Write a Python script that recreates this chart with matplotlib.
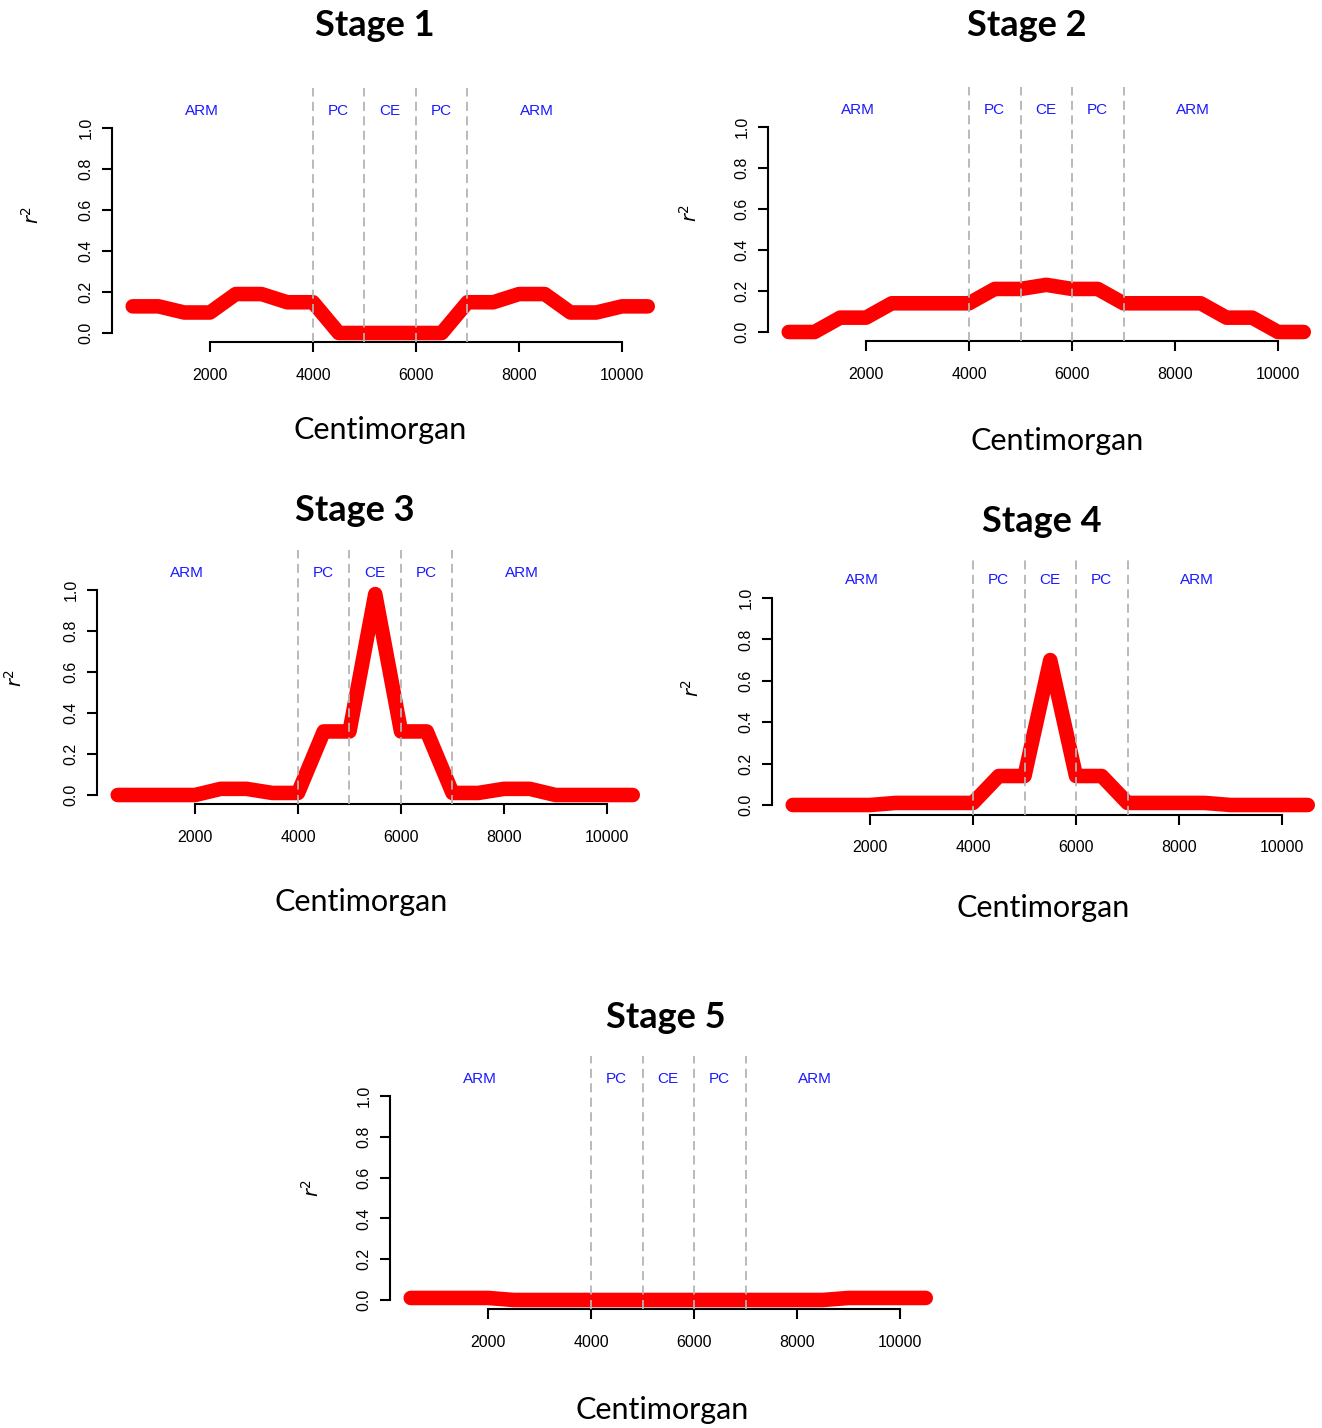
import matplotlib.pyplot as plt

W, H = 1322, 1428

# genetic position (cM) of each sampled point
cm_pos = [500, 1000, 1500, 2000, 2500, 3000, 3500, 4000, 4500, 5000, 5500,
          6000, 6500, 7000, 7500, 8000, 8500, 9000, 9500, 10000, 10500]

# r^2 at each position, one list per stage
stage1 = [0.13, 0.13, 0.10, 0.10, 0.19, 0.19, 0.15, 0.15, 0.0, 0.0, 0.0,
          0.0, 0.0, 0.15, 0.15, 0.19, 0.19, 0.10, 0.10, 0.13, 0.13]
stage2 = [0.0, 0.0, 0.07, 0.07, 0.14, 0.14, 0.14, 0.14, 0.21, 0.21, 0.23,
          0.21, 0.21, 0.14, 0.14, 0.14, 0.14, 0.07, 0.07, 0.0, 0.0]
stage3 = [0.0, 0.0, 0.0, 0.0, 0.03, 0.03, 0.01, 0.01, 0.31, 0.31, 0.98,
          0.31, 0.31, 0.01, 0.01, 0.03, 0.03, 0.0, 0.0, 0.0, 0.0]
stage4 = [0.0, 0.0, 0.0, 0.0, 0.01, 0.01, 0.01, 0.01, 0.14, 0.14, 0.70,
          0.14, 0.14, 0.01, 0.01, 0.01, 0.01, 0.0, 0.0, 0.0, 0.0]
stage5 = [0.01, 0.01, 0.01, 0.01, 0.0, 0.0, 0.0, 0.0, 0.0, 0.0, 0.0,
          0.0, 0.0, 0.0, 0.0, 0.0, 0.0, 0.01, 0.01, 0.01, 0.01]

stage_titles = ['Stage 1', 'Stage 2', 'Stage 3', 'Stage 4', 'Stage 5']

# chromosome regions
boundaries = [4000, 5000, 6000, 7000]
region_names = ['ARM', 'PC', 'CE', 'PC', 'ARM']
region_mid = [1850, 4500, 5500, 6500, 8350]

x_ticks = [2000, 4000, 6000, 8000, 10000]
y_ticks = [0.0, 0.2, 0.4, 0.6, 0.8, 1.0]

# panel placement in pixels: x of 2000 tick, y of r2=1, y of r2=0,
# title centre, xlabel centre, ylabel centre
panels = [
    dict(x2000=210, y1=128, y0=333, title=(375, 25), xlab=(380, 430), ylab=(32, 215)),
    dict(x2000=866, y1=127, y0=332, title=(1027, 25), xlab=(1057, 441), ylab=(690, 213)),
    dict(x2000=195, y1=590, y0=795, title=(355, 510), xlab=(361, 902), ylab=(15, 678)),
    dict(x2000=870, y1=598, y0=805, title=(1042, 522), xlab=(1043, 908), ylab=(692, 688)),
    dict(x2000=488, y1=1096, y0=1300, title=(666, 1018), xlab=(662, 1410), ylab=(312, 1188)),
]
series = [stage1, stage2, stage3, stage4, stage5]

XLIM = (100, 10900)
YLIM = (-0.046, 1.196)
PX_PER_CM = 0.0515

fig = plt.figure(figsize=(W / 100, H / 100), dpi=100)


def ftxt(x, y, s, **kw):
    fig.text(x / W, 1 - y / H, s, ha='center', va='center', **kw)


for p, vals, title in zip(panels, series, stage_titles):
    yscale = p['y0'] - p['y1']
    left = p['x2000'] - (2000 - XLIM[0]) * PX_PER_CM
    width = (XLIM[1] - XLIM[0]) * PX_PER_CM
    top = p['y1'] - (YLIM[1] - 1) * yscale
    height = (YLIM[1] - YLIM[0]) * yscale
    ax = fig.add_axes([left / W, 1 - (top + height) / H, width / W, height / H])

    ax.plot(cm_pos, vals, color='#ff0000', lw=10.5,
            solid_capstyle='round', solid_joinstyle='round', zorder=2)
    for b in boundaries:
        ax.axvline(b, color='#b4b4b4', lw=1.3, ls=(0, (5, 3)), zorder=3)
    for name, xm in zip(region_names, region_mid):
        ax.text(xm, 1.085, name, color='#1a1aff', ha='center', va='center',
                fontsize=11, family='Liberation Sans')

    ax.set_xlim(*XLIM)
    ax.set_ylim(*YLIM)
    for side in ['top', 'right']:
        ax.spines[side].set_visible(False)
    ax.spines['left'].set_bounds(0, 1)
    ax.spines['bottom'].set_bounds(2000, 10000)
    for side in ['left', 'bottom']:
        ax.spines[side].set_linewidth(1.5)

    ax.set_xticks(x_ticks)
    ax.set_xticklabels([str(t) for t in x_ticks], family='Liberation Sans')
    ax.set_yticks(y_ticks)
    ax.set_yticklabels([f'{t:.1f}' for t in y_ticks], rotation=90, va='center',
                       family='Liberation Sans')
    ax.tick_params(axis='both', length=7.5, width=1.5, labelsize=11.5)
    ax.tick_params(axis='x', pad=11)
    ax.tick_params(axis='y', pad=6)

    ftxt(*p['title'], title, fontsize=26, fontweight='bold', family='Lato')
    ftxt(*p['xlab'], 'Centimorgan', fontsize=22, family='Lato')
    ftxt(*p['ylab'], r'$r^2$', fontsize=14, rotation=90)

fig.savefig('out.png', dpi=100)
plt.close()
